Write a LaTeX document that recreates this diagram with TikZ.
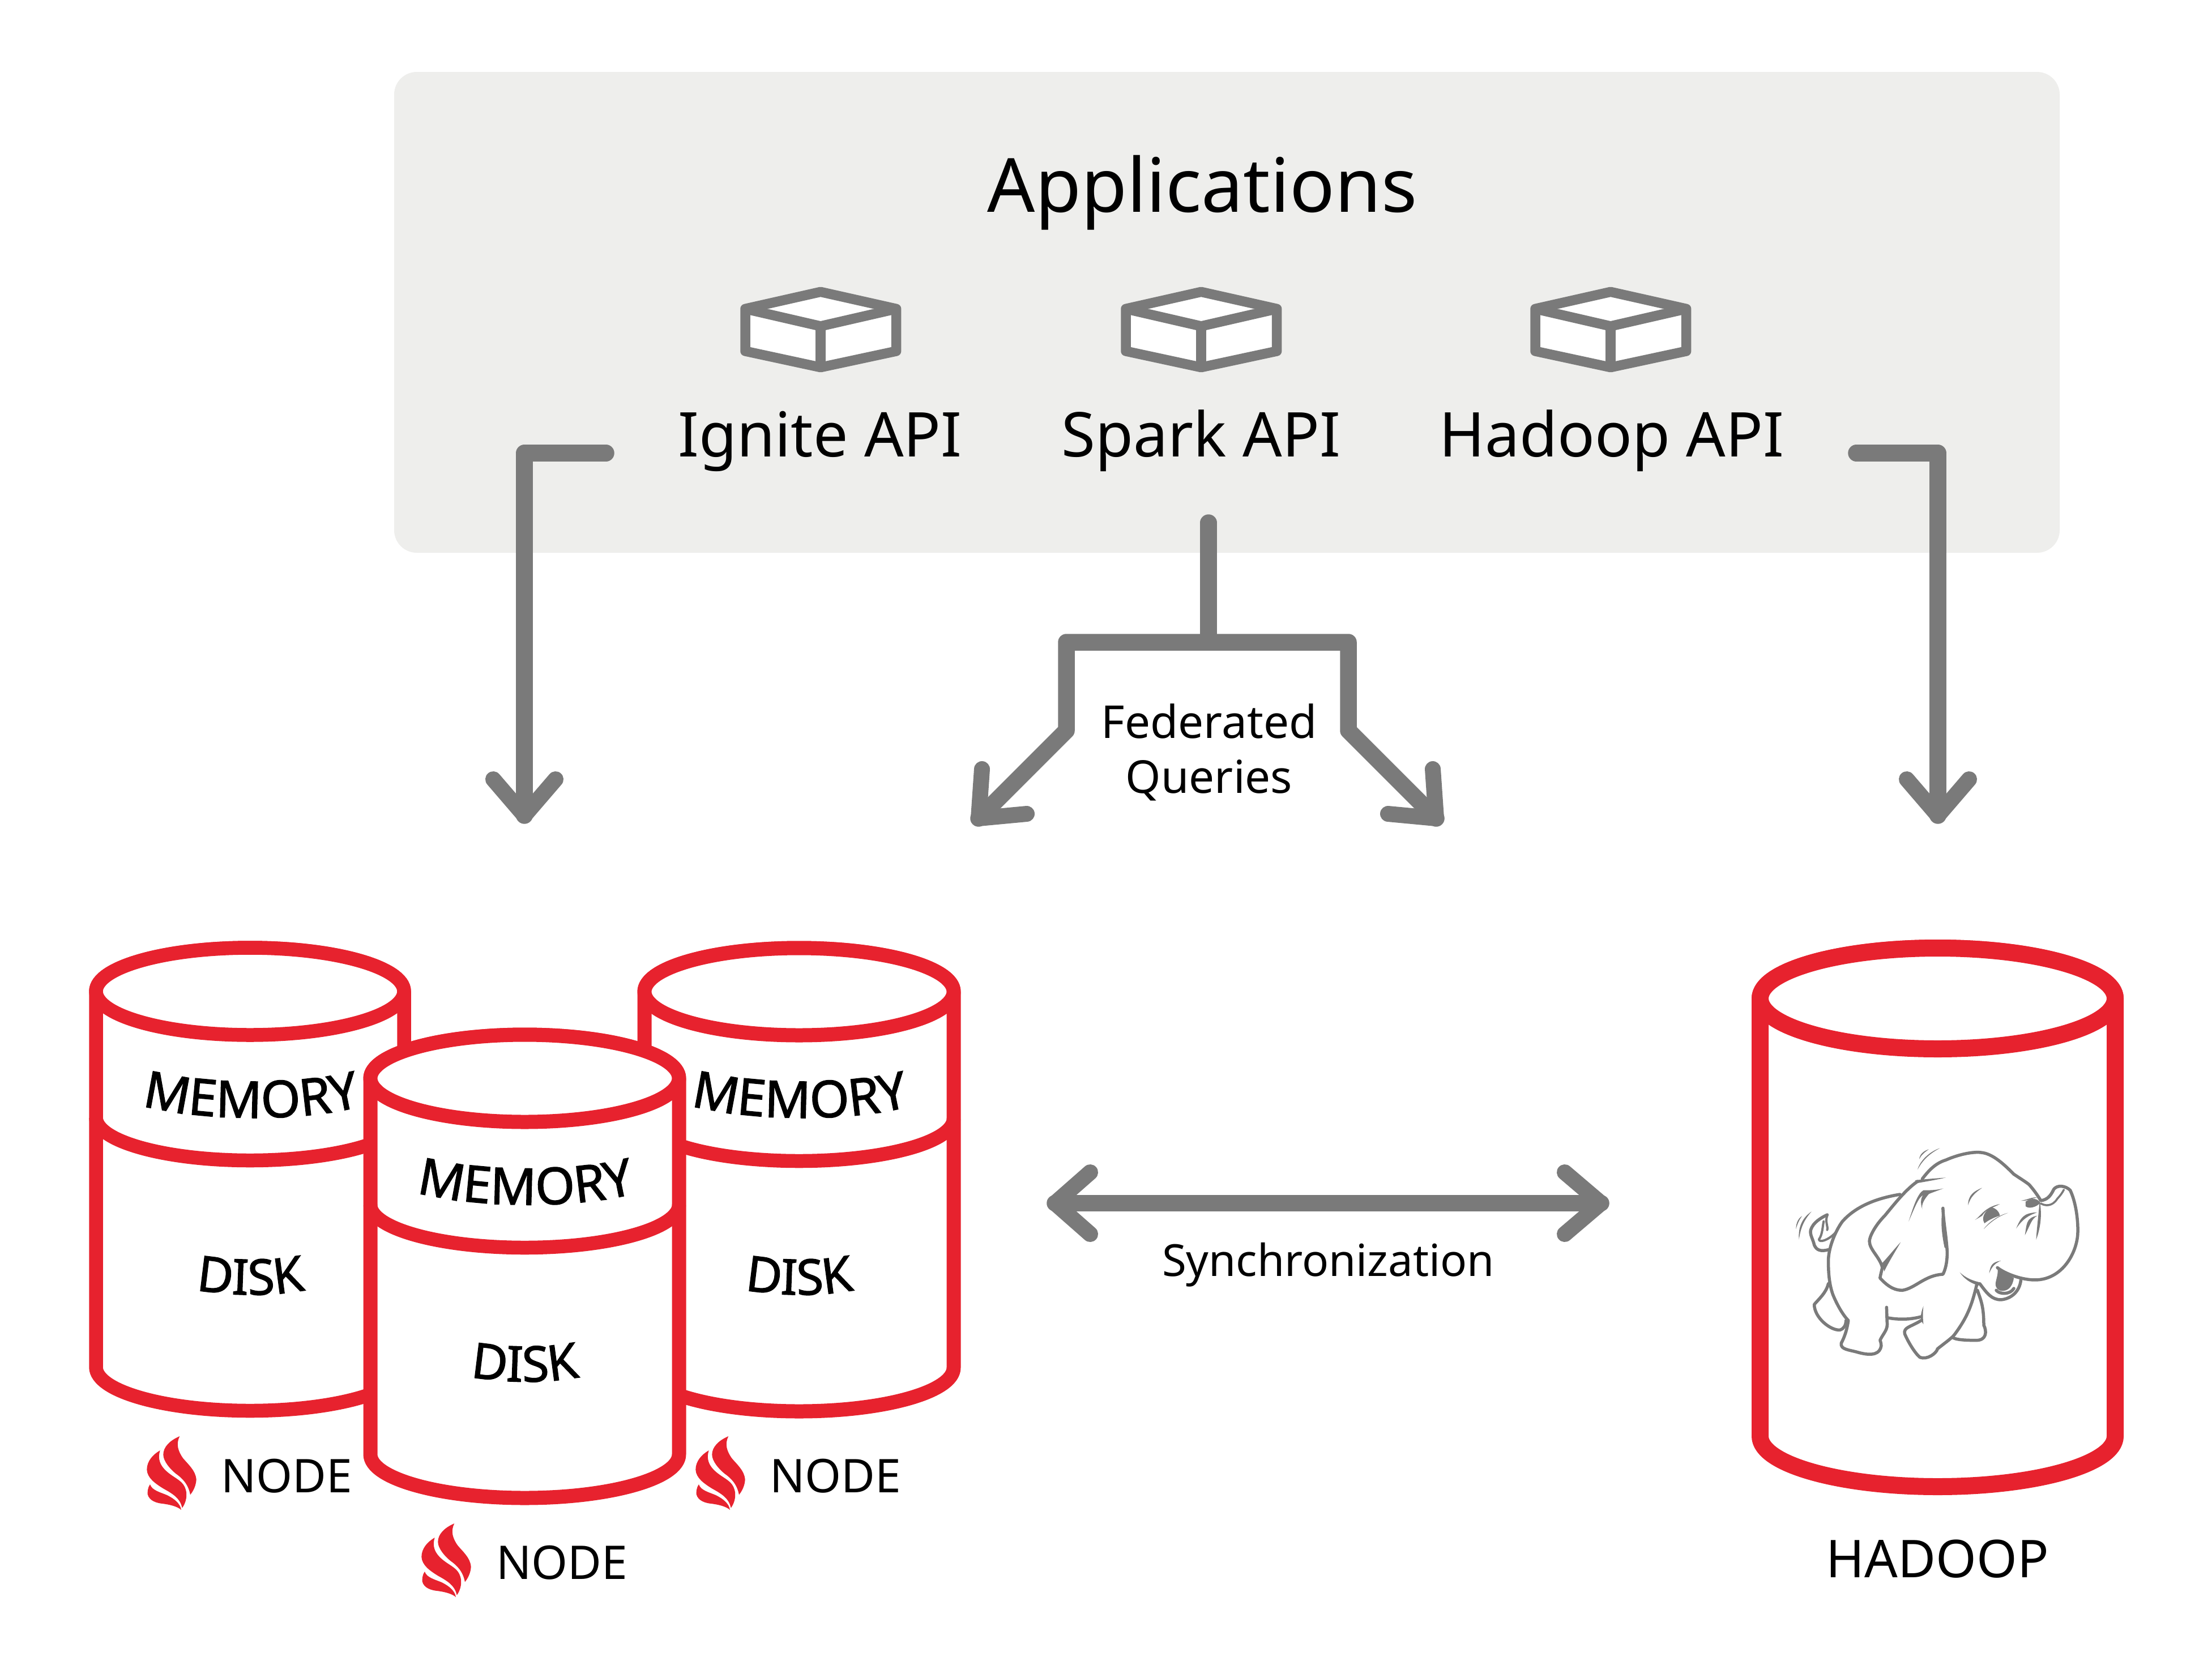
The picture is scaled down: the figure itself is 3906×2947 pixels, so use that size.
\documentclass[tikz,border=0pt]{standalone}
\usepackage{fontspec}
\setmainfont{Noto Sans}
\newfontfamily\memfont[FakeBold=1.5]{Noto Sans}
\usetikzlibrary{decorations.text}
\definecolor{redc}{HTML}{E7222E}
\definecolor{grayc}{HTML}{7A7A7A}
\definecolor{panelc}{HTML}{EEEEEC}
\tikzset{
  cylline/.style={draw=redc,line join=round,fill=white},
  conn/.style={draw=grayc,line width=29.5pt,line join=round,line cap=round},
  head/.style={draw=grayc,line width=28pt,line join=round,line cap=round},
  boxicon/.style={draw=grayc,line width=17.5pt,line join=round,fill=white},
  txt/.style={inner sep=0pt,anchor=base,text=black,font=\fontsize{#1}{#1}\selectfont},
  eleline/.style={draw=grayc,line width=5.5pt,line join=round,line cap=round},
  eleacc/.style={fill=grayc,draw=none},
}
% cx, top, bottom, rx, ry, lw
\newcommand\cylbody[6]{%
  \draw[cylline,line width=#6pt] (#1-#4,#2) -- (#1-#4,#3)
     arc[start angle=180,end angle=360,x radius=#4pt,y radius=#5pt] -- (#1+#4,#2)
     arc[start angle=0,end angle=180,x radius=#4pt,y radius=#5pt] -- cycle;
  \draw[cylline,line width=#6pt] (#1,#2) ellipse[x radius=#4pt,y radius=#5pt];
}
% cx, y, rx, ry, lw
\newcommand\cylmid[5]{%
  \draw[redc,line width=#5pt] (#1-#3,#2) arc[start angle=180,end angle=360,x radius=#3pt,y radius=#4pt];
}
\newcommand\storagetext[2]{%
  \begin{scope}[shift={(#1,#2)}]
    \path[decorate,decoration={text along path,text align=center,
       text={|\memfont\fontsize{90}{90}\selectfont|MEMORY}}]
       (238,1948) .. controls (345,1982) and (545,1982) .. (650,1950);
    \path[decorate,decoration={text along path,text align=center,
       text={|\memfont\fontsize{87}{87}\selectfont|DISK}}]
       (335,2275) .. controls (400,2290) and (490,2290) .. (550,2275);
  \end{scope}
}
\newcommand\flame[2]{%
  \begin{scope}[shift={(#1,#2)},x=0.3333pt,y=-0.3333pt]
    \fill[redc] (292,108) .. controls (240,130) and (205,165) .. (205,205)
      .. controls (205,240) and (240,280) .. (270,305)
      .. controls (320,340) and (340,375) .. (348,418)
      .. controls (375,385) and (380,350) .. (380,335)
      .. controls (375,290) and (340,260) .. (310,225)
      .. controls (285,190) and (270,150) .. (292,108) -- cycle;
    \fill[redc] (188,183) .. controls (150,205) and (118,240) .. (118,285)
      .. controls (120,330) and (165,360) .. (205,385)
      .. controls (250,410) and (295,435) .. (305,488)
      .. controls (325,460) and (330,430) .. (327,405)
      .. controls (320,360) and (295,345) .. (260,322)
      .. controls (220,295) and (165,255) .. (188,183) -- cycle;
    \fill[redc] (135,363) .. controls (120,385) and (122,405) .. (122,415)
      .. controls (130,450) and (170,462) .. (200,465)
      .. controls (240,470) and (280,480) .. (300,498)
      .. controls (295,465) and (265,440) .. (225,420)
      .. controls (190,405) and (145,395) .. (135,363) -- cycle;
  \end{scope}
}
\newcommand\apibox[1]{%
  \begin{scope}[shift={(#1,480)},x=0.3333pt,y=-0.3333pt]
    \draw[boxicon] (597,106) -- (998,196) -- (998,420) -- (597,506) -- (198,420) -- (198,196) -- cycle;
    \draw[draw=grayc,line width=17.5pt,line join=round] (198,196) -- (597,288) -- (998,196);
    \draw[draw=grayc,line width=18pt] (597,288) -- (597,506);
  \end{scope}
}
\begin{document}
\begin{tikzpicture}[x=1pt,y=-1pt]
\useasboundingbox (0,0) rectangle (3906,2947);
\fill[white] (0,0) rectangle (3906,2947);

% panel
\fill[panelc,rounded corners=40pt] (696,127) rectangle (3637,976);
\node[txt=132] (apps) at (2123,374) {Applications};
\apibox{1250}\apibox{1922}\apibox{2645}
\node[txt=109] (ignite) at (1448,806) {Ignite API};
\node[txt=109] (spark) at (2121,806) {Spark API};
\node[txt=109] (hadoopapi) at (2846,806) {Hadoop API};

% connector coordinates
\coordinate (ia) at (1070,800);
\coordinate (ib) at (926,800);
\coordinate (ic) at (926,1440);
\coordinate (il) at (871,1376);
\coordinate (ir) at (981,1376);
\coordinate (ha) at (3278,800);
\coordinate (hb) at (3422,800);
\coordinate (hc) at (3422,1440);
\coordinate (hl) at (3367,1376);
\coordinate (hr) at (3477,1376);
\coordinate (sa) at (2134,923);
\coordinate (sb) at (2134,1134);
\coordinate (bl) at (1883,1134);
\coordinate (br) at (2381,1134);
\coordinate (dl) at (1883,1290);
\coordinate (dr) at (2381,1290);
\coordinate (tl) at (1728,1445);
\coordinate (tr) at (2536,1445);
\coordinate (tlu) at (1734,1358);
\coordinate (tlh) at (1813,1437);
\coordinate (tru) at (2530,1358);
\coordinate (trh) at (2451,1437);
\coordinate (ya) at (1863,2124.5);
\coordinate (yb) at (2827,2124.5);
\coordinate (yau) at (1925,2070);
\coordinate (yad) at (1925,2179);
\coordinate (ybu) at (2763,2070);
\coordinate (ybd) at (2763,2179);

\draw[conn] (ia) -- (ib) -- (ic);
\draw[head] (il) -- (ic) -- (ir);
\draw[conn] (ha) -- (hb) -- (hc);
\draw[head] (hl) -- (hc) -- (hr);
\draw[conn] (sa) -- (sb);
\draw[conn] (tl) -- (dl) -- (bl) -- (br) -- (dr) -- (tr);
\draw[head] (tlu) -- (tl) -- (tlh);
\draw[head] (tru) -- (tr) -- (trh);
\draw[conn] (ya) -- (yb);
\draw[head] (yau) -- (ya) -- (yad);
\draw[head] (ybu) -- (yb) -- (ybd);

\node[txt=80] (fed) at (2135,1303) {Federated};
\node[txt=80] (que) at (2135,1400) {Queries};
\node[txt=78] (sync) at (2345.5,2253) {Synchronization};

% cylinders
\cylbody{441.5}{1750.5}{2414}{272}{77}{24.5}
\cylmid{441.5}{1973}{272}{76}{24.5}
\cylbody{1411}{1751}{2415}{273}{77}{25}
\cylmid{1411}{1975}{273}{75}{24.5}
\storagetext{0}{0}
\storagetext{969}{0}
\cylbody{926.5}{1904}{2568}{272.5}{77}{25}
\cylmid{926.5}{2127}{272.5}{76}{24.5}
\storagetext{484.5}{153.5}

\flame{220}{2500}\flame{1189}{2500}\flame{705}{2654}
\node[txt=82] (n1) at (506.5,2635) {NODE};
\node[txt=82] (n2) at (1475.5,2635) {NODE};
\node[txt=82] (n3) at (992.5,2788) {NODE};

% Hadoop
\cylbody{3421.5}{1763}{2536}{313.5}{89}{30}
\node[txt=92] (hadoop) at (3421,2785) {HADOOP};

% Elephant
\begin{scope}[shift={(3100,1950)},x=0.4146pt,y=-0.3333pt]
  % head and trunk
  \draw[eleline] (710,395) .. controls (740,345) and (770,310) .. (810,295)
    .. controls (870,262) and (930,250) .. (960,255)
    .. controls (1010,260) and (1060,320) .. (1100,370)
    .. controls (1130,395) and (1150,410) .. (1165,425)
    .. controls (1190,460) and (1205,490) .. (1215,510)
    .. controls (1240,505) and (1255,490) .. (1270,450)
    .. controls (1285,425) and (1320,430) .. (1340,455)
    .. controls (1365,520) and (1375,620) .. (1372,690)
    .. controls (1365,800) and (1300,930) .. (1190,930)
    .. controls (1130,930) and (1060,895) .. (1030,865);
  % mouth
  \fill[grayc] (1030,865) .. controls (1050,885) and (1080,905) .. (1100,920)
    .. controls (1095,960) and (1080,985) .. (1055,988)
    .. controls (1035,990) and (1022,975) .. (1022,950)
    .. controls (1025,920) and (1035,900) .. (1030,865) -- cycle;
  \draw[eleline] (1130,930) .. controls (1125,990) and (1090,1030) .. (1045,1035)
    .. controls (1005,1035) and (985,1000) .. (955,950);
  \draw[eleline] (1025,985) .. controls (1040,1008) and (1085,1008) .. (1100,975);
  \fill[grayc] (955,943) .. controls (930,935) and (900,925) .. (870,890)
    .. controls (895,935) and (925,950) .. (950,960) -- cycle;
  % ear
  \fill[grayc] (810,388) .. controls (770,400) and (720,410) .. (685,418)
    -- (680,402) .. controls (720,396) and (770,392) .. (810,388) -- cycle;
  \draw[eleline] (690,408) .. controls (640,450) and (590,530) .. (550,590)
    .. controls (510,640) and (485,700) .. (485,725)
    .. controls (485,770) and (530,810) .. (540,865)
    .. controls (535,890) and (532,905) .. (530,920)
    .. controls (570,975) and (600,985) .. (625,985)
    .. controls (680,975) and (720,905) .. (798,900)
    .. controls (815,860) and (818,800) .. (815,760)
    .. controls (810,680) and (800,620) .. (798,550);
  \fill[grayc] (798,548) .. controls (785,620) and (795,700) .. (805,760) -- (818,760) .. controls (812,690) and (800,620) .. (798,548) -- cycle;
  % back and hind leg
  \draw[eleline] (615,477) .. controls (500,500) and (420,550) .. (370,620)
    .. controls (340,670) and (310,760) .. (310,830)
    .. controls (310,900) and (315,960) .. (330,1010)
    .. controls (350,1070) and (375,1120) .. (395,1145)
    .. controls (390,1190) and (380,1230) .. (365,1265)
    .. controls (360,1300) and (400,1300) .. (440,1315)
    .. controls (500,1335) and (530,1320) .. (535,1280)
    .. controls (535,1265) and (532,1255) .. (530,1250)
    .. controls (545,1210) and (565,1195) .. (560,1150)
    -- (558,1075);
  \draw[eleline] (560,1130) .. controls (610,1142) and (660,1140) .. (705,1125);
  \draw[eleline] (705,1145) .. controls (660,1180) and (630,1180) .. (635,1215)
    .. controls (650,1260) and (680,1320) .. (700,1340)
    .. controls (730,1355) and (770,1320) .. (775,1295)
    .. controls (810,1260) and (840,1235) .. (850,1215)
    .. controls (900,1130) and (920,1070) .. (942,955);
  \draw[eleline] (945,985) .. controls (960,1040) and (972,1070) .. (972,1170)
    .. controls (985,1200) and (985,1250) .. (940,1250)
    .. controls (880,1250) and (850,1245) .. (840,1235);
  \draw[eleline] (310,950) .. controls (300,1000) and (270,1030) .. (250,1060)
    .. controls (250,1130) and (320,1200) .. (360,1195)
    .. controls (375,1190) and (385,1170) .. (385,1145);
  % tail
  \draw[eleline] (310,770) .. controls (280,780) and (260,775) .. (250,745)
    .. controls (245,715) and (230,690) .. (235,665)
    .. controls (245,625) and (280,600) .. (305,585);
  \draw[eleline,line width=4pt] (305,590) .. controls (295,620) and (310,650) .. (305,665);
  \draw[eleline,line width=4pt] (290,620) .. controls (285,650) and (285,690) .. (270,715)
    .. controls (270,735) and (310,720) .. (340,680);
  % accents
  \fill[eleacc] (690,345) .. controls (700,300) and (740,250) .. (785,232) .. controls (735,265) and (710,300) .. (690,345) -- cycle;
  \fill[eleacc] (697,290) .. controls (700,260) and (720,245) .. (738,238) .. controls (718,255) and (705,270) .. (697,290) -- cycle;
  \fill[eleacc] (185,715) .. controls (180,650) and (200,600) .. (238,568) .. controls (205,615) and (192,655) .. (185,715) -- cycle;
  \fill[eleacc] (172,660) .. controls (172,625) and (185,600) .. (198,592) .. controls (185,612) and (178,635) .. (172,660) -- cycle;
  \fill[eleacc] (652,620) .. controls (670,550) and (690,470) .. (715,455)
    .. controls (740,455) and (770,455) .. (800,445)
    .. controls (770,460) and (745,470) .. (738,475)
    .. controls (720,500) and (705,530) .. (710,555)
    .. controls (700,520) and (705,490) .. (715,480)
    .. controls (695,490) and (680,540) .. (652,620) -- cycle;
  \fill[eleacc] (540,840) .. controls (570,800) and (595,760) .. (618,730)
    .. controls (590,790) and (565,840) .. (548,885) -- cycle;
  \fill[eleacc] (905,535) .. controls (905,480) and (930,460) .. (965,442) .. controls (935,468) and (915,490) .. (905,535) -- cycle;
  \fill[eleacc] (1000,545) .. controls (1020,545) and (1040,570) .. (1040,590)
    .. controls (1010,600) and (985,620) .. (975,630)
    .. controls (965,610) and (965,580) .. (1000,545) -- cycle;
  \fill[eleacc] (935,612) .. controls (960,590) and (975,545) .. (1040,528)
    .. controls (1010,550) and (985,550) .. (965,590) -- cycle;
  \fill[eleacc] (972,660) .. controls (995,620) and (1040,585) .. (1075,575)
    .. controls (1030,595) and (1000,625) .. (972,660) -- cycle;
  \fill[eleacc] (1150,515) .. controls (1175,495) and (1200,495) .. (1213,522)
    .. controls (1195,545) and (1165,555) .. (1150,540) -- cycle;
  \fill[eleacc] (1130,510) .. controls (1160,505) and (1175,490) .. (1200,493)
    .. controls (1175,500) and (1160,512) .. (1130,510) -- cycle;
  \draw[eleline,line width=3.5pt] (1215,525) .. controls (1235,540) and (1265,540) .. (1285,500) .. controls (1300,480) and (1308,465) .. (1313,452);
  \fill[eleacc] (1210,510) .. controls (1222,590) and (1212,660) .. (1195,717)
    .. controls (1198,650) and (1205,590) .. (1210,510) -- cycle;
  \fill[eleacc] (1110,657) .. controls (1130,600) and (1140,575) .. (1200,572)
    .. controls (1160,590) and (1140,605) .. (1110,657) -- cycle;
  \fill[eleacc] (1147,693) .. controls (1155,640) and (1150,600) .. (1200,590)
    .. controls (1175,605) and (1170,640) .. (1147,693) -- cycle;
  \fill[eleacc] (995,895) .. controls (1000,850) and (1010,835) .. (1045,828)
    .. controls (1020,842) and (1007,858) .. (995,895) -- cycle;
  \fill[eleacc] (715,1068) .. controls (700,1120) and (700,1140) .. (715,1165)
    .. controls (712,1130) and (712,1100) .. (715,1068) -- cycle;
\end{scope}
\end{tikzpicture}
\end{document}
